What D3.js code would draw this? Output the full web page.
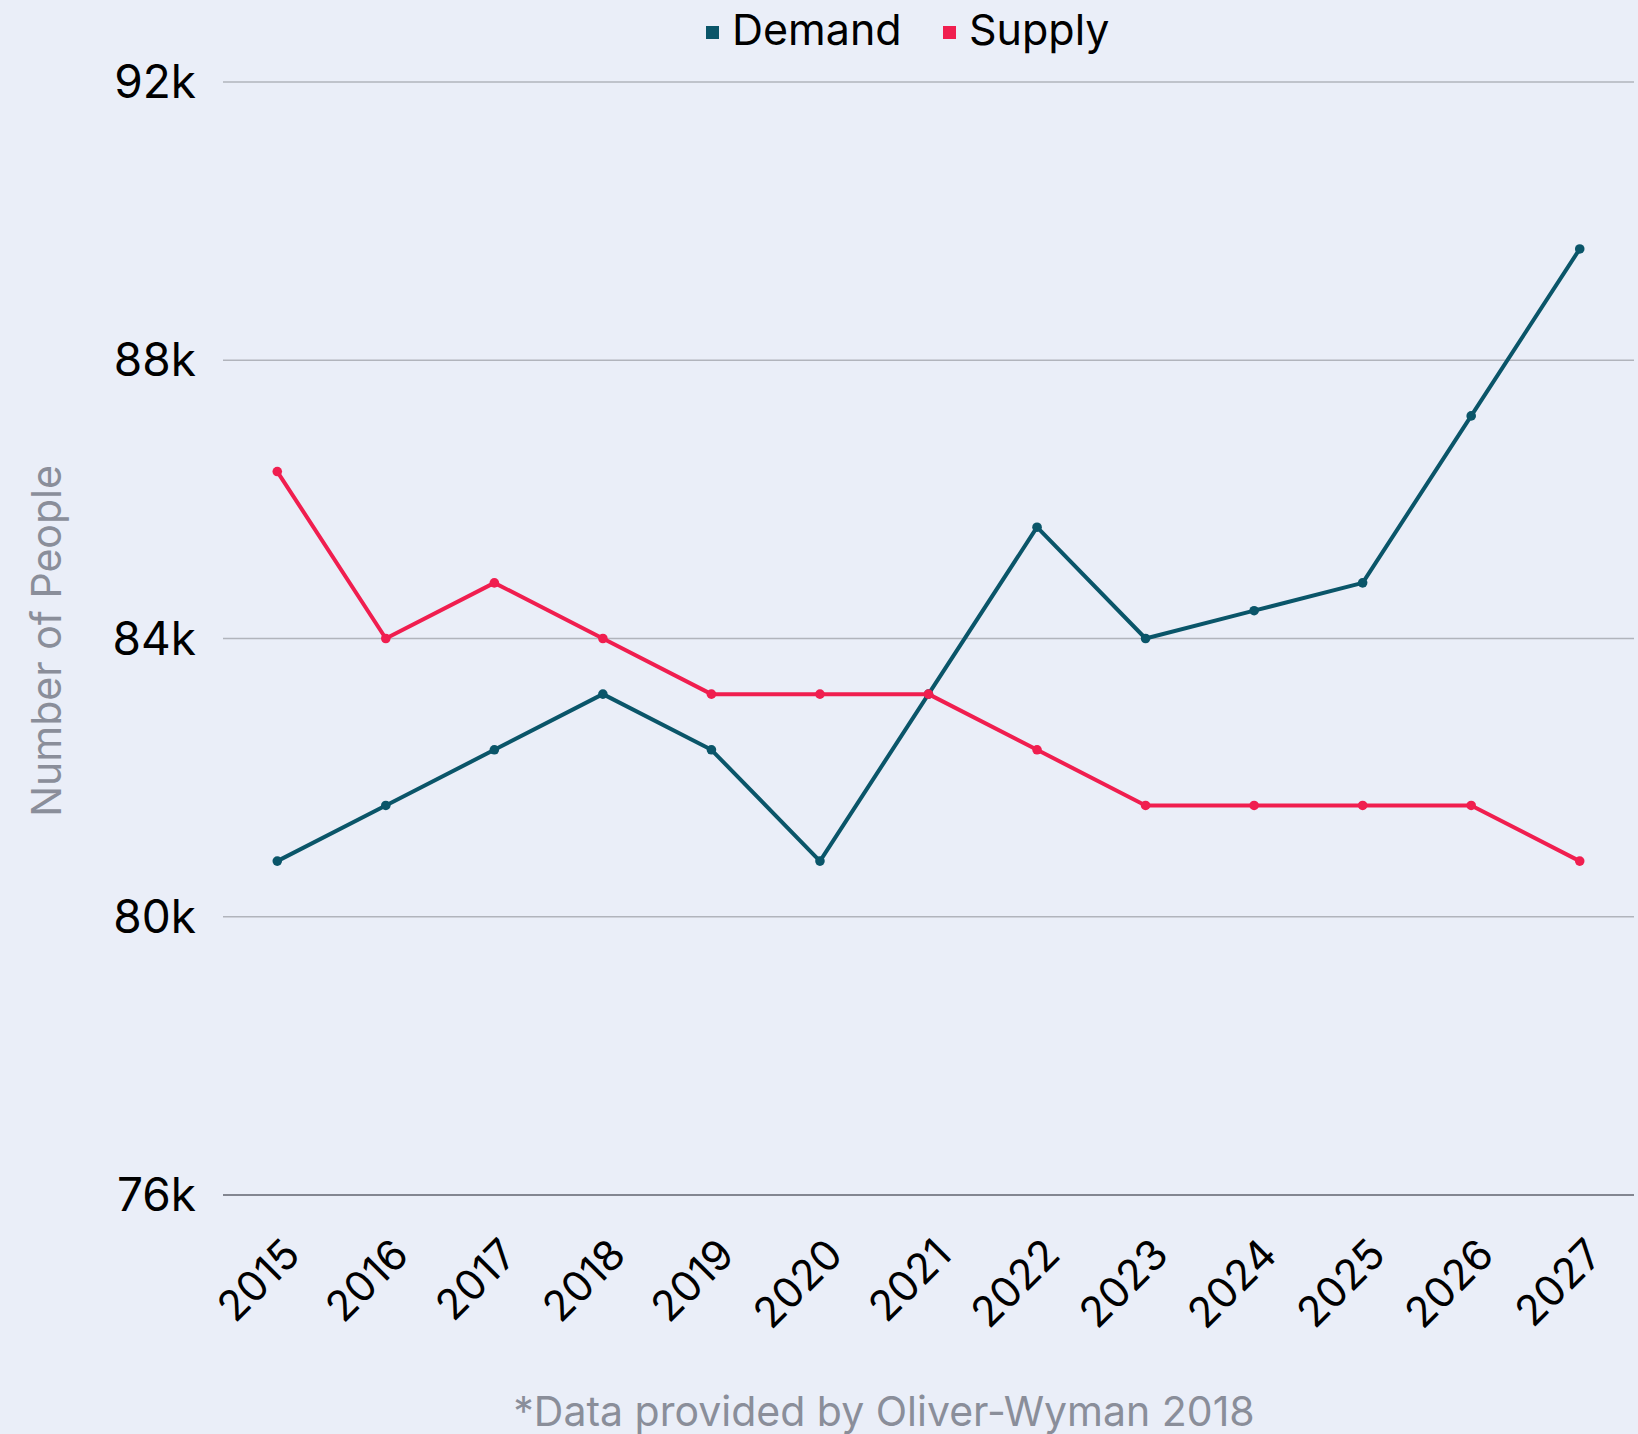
<!DOCTYPE html>
<html>
<head>
<meta charset="utf-8">
<script src="https://cdn.jsdelivr.net/npm/d3@7"></script>
<style>
  html, body { margin: 0; padding: 0; background: #eaeef8; }
  svg { display: block; font-family: Inter, "Noto Sans", sans-serif; }
</style>
</head>
<body>
<svg id="chart" width="1638" height="1434"></svg>
<script>
// ── Data ──────────────────────────────────────────────────────────────────────
const years   = ['2015','2016','2017','2018','2019','2020','2021','2022','2023','2024','2025','2026','2027'];
const demand  = [80.8, 81.6, 82.4, 83.2, 82.4, 80.8, 83.2, 85.6, 84.0, 84.4, 84.8, 87.2, 89.6];
const supply  = [86.4, 84.0, 84.8, 84.0, 83.2, 83.2, 83.2, 82.4, 81.6, 81.6, 81.6, 81.6, 80.8];
const yTicks  = [76, 80, 84, 88, 92];
const seriesNames  = ['Demand', 'Supply'];
const seriesColors = ['#0a5569', '#f01e4f'];

// ── Layout ────────────────────────────────────────────────────────────────────
const W = 1638, H = 1434;
const m = { left: 223, right: 4, top: 82, bottom: 239 };

const svg = d3.select('#chart');
svg.append('rect').attr('width', W).attr('height', H).attr('fill', '#eaeef8');

const x = d3.scalePoint().domain(years).range([m.left, W - m.right]).padding(0.5);
const y = d3.scaleLinear().domain([76, 92]).range([H - m.bottom, m.top]);

// Grid lines + y labels
const yAxis = svg.append('g');
yAxis.selectAll('line')
  .data(yTicks)
  .enter().append('line')
  .attr('x1', m.left).attr('x2', W - m.right)
  .attr('y1', d => y(d)).attr('y2', d => y(d))
  .attr('stroke', d => d === 76 ? '#60636f' : '#b1b4bc')
  .attr('stroke-width', 1.6);

yAxis.selectAll('text')
  .data(yTicks)
  .enter().append('text')
  .attr('x', m.left - 27)
  .attr('y', d => y(d) + 16)
  .attr('text-anchor', 'end')
  .attr('font-size', 46)
  .attr('fill', '#000')
  .text(d => d + 'k');

// x labels (rotated)
svg.append('g').selectAll('text')
  .data(years)
  .enter().append('text')
  .attr('transform', d => `translate(${x(d) + 25},${H - m.bottom + 62}) rotate(-45)`)
  .attr('text-anchor', 'end')
  .attr('font-size', 42)
  .attr('fill', '#000')
  .text(d => d);

// Axis title
svg.append('text')
  .attr('transform', 'translate(61,641) rotate(-90)')
  .attr('text-anchor', 'middle')
  .attr('font-size', 41)
  .attr('fill', '#8a8e9a')
  .text('Number of People');

// Lines
const line = d3.line().x((d, i) => x(years[i])).y(d => y(d));
[demand, supply].forEach((vals, k) => {
  const g = svg.append('g');
  g.append('path')
    .datum(vals)
    .attr('d', line)
    .attr('fill', 'none')
    .attr('stroke', seriesColors[k])
    .attr('stroke-width', 4)
    .attr('stroke-linejoin', 'round');
  g.selectAll('circle')
    .data(vals)
    .enter().append('circle')
    .attr('cx', (d, i) => x(years[i]))
    .attr('cy', d => y(d))
    .attr('r', 4.8)
    .attr('fill', seriesColors[k]);
});

// Legend
const legendX = [706, 943];
const legend = svg.append('g');
seriesNames.forEach((name, k) => {
  legend.append('rect')
    .attr('x', legendX[k]).attr('y', 26)
    .attr('width', 13).attr('height', 13)
    .attr('fill', seriesColors[k]);
  legend.append('text')
    .attr('x', legendX[k] + 26).attr('y', 45)
    .attr('font-size', 43)
    .attr('fill', '#000')
    .text(name);
});

// Footer
svg.append('text')
  .attr('x', 884).attr('y', 1426)
  .attr('text-anchor', 'middle')
  .attr('font-size', 41)
  .attr('fill', '#8a8e9a')
  .text('*Data provided by Oliver-Wyman 2018');
</script>
</body>
</html>
